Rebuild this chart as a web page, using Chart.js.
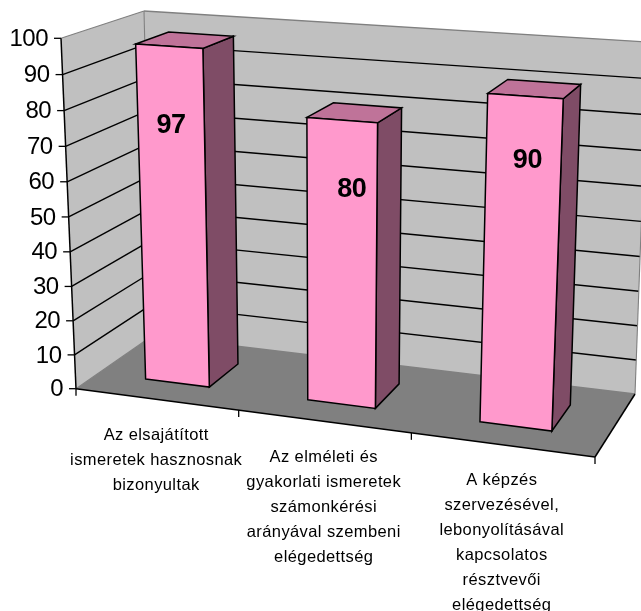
<!DOCTYPE html>
<html><head><meta charset="utf-8">
<style>html,body{margin:0;padding:0;background:#fff;overflow:hidden}canvas{display:block}</style>
<script src="https://cdn.jsdelivr.net/npm/chart.js@4"></script>
</head><body><canvas id="c" width="641" height="611"></canvas>
<script>
const categories = [
  ["Az elsajátított","ismeretek hasznosnak","bizonyultak"],
  ["Az elméleti és","gyakorlati ismeretek","számonkérési","arányával szembeni","elégedettség"],
  ["A képzés","szervezésével,","lebonyolításával","kapcsolatos","résztvevői","elégedettség"]
];
const values = [97, 80, 90];
const yMin = 0, yMax = 100, yStep = 10;

// view of the 3D box: screen corners of the vertical edges
const view = {
  A:[76,388.7], B:[595,457], C:[152,336], D:[635,394],
  E:[61,38.3],  H:[612,73.5],  F:[144,11],  G:[648,42],
  su:1.095, sv:1.04, sd:1
};
const depthFront = 0.30, depthBack = 0.72;
const labelHeight = [0.77,0.76,0.81], labelNudge = [0,10,4];
const COL = {wall:'#C0C0C0', floor:'#808080', edge:'#808080', front:'#FF99CC', top:'#BF7399', side:'#7F4C66', ink:'#000'};

const warp=(t,s)=>t/(t+(1-t)*s);
function P(u,v,d){
  const a=warp(u,view.su), b=warp(v,view.sv), c=warp(d,view.sd);
  const mix=(p,q,t)=>[p[0]+(q[0]-p[0])*t,p[1]+(q[1]-p[1])*t];
  const bot=mix(mix(view.A,view.B,a),mix(view.C,view.D,a),c);
  const top=mix(mix(view.E,view.H,a),mix(view.F,view.G,a),c);
  return mix(bot,top,b);
}
function poly(ctx,pts,fill,stroke,w){
  ctx.beginPath();pts.forEach((p,i)=>i?ctx.lineTo(p[0],p[1]):ctx.moveTo(p[0],p[1]));ctx.closePath();
  if(fill){ctx.fillStyle=fill;ctx.fill();}
  if(stroke){ctx.strokeStyle=stroke;ctx.lineWidth=w||1.5;ctx.lineJoin='miter';ctx.stroke();}
}
function line(ctx,p,q,c,w){ctx.beginPath();ctx.moveTo(p[0],p[1]);ctx.lineTo(q[0],q[1]);ctx.strokeStyle=c;ctx.lineWidth=w;ctx.stroke();}

const box3d = {
  id:'box3d',
  beforeDatasetsDraw(chart){
    const ctx=chart.ctx, ys=chart.scales.y;
    const vOf=val=>(val-ys.min)/(ys.max-ys.min);
    ctx.save();
    poly(ctx,[P(0,0,1),P(1,0,1),P(1,1,1),P(0,1,1)],COL.wall);
    poly(ctx,[P(0,0,0),P(0,0,1),P(0,1,1),P(0,1,0)],COL.wall);
    poly(ctx,[P(0,0,0),P(1,0,0),P(1,0,1),P(0,0,1)],COL.floor);
    ys.getTicks().forEach(t=>{
      const v=vOf(t.value);
      if(v>0&&v<1){
        line(ctx,P(0,v,0),P(0,v,1),COL.ink,1.4);
        line(ctx,P(0,v,1),P(1,v,1),COL.ink,1.4);
      }
    });
    line(ctx,P(0,1,0),P(0,1,1),COL.edge,1.2);
    line(ctx,P(0,1,1),P(1,1,1),COL.edge,1.3);
    line(ctx,P(0,0,1),P(0,1,1),COL.edge,1.1);
    line(ctx,P(0,0,0),P(0,0,1),COL.edge,1.1);
    line(ctx,P(0,0,1),P(1,0,1),COL.edge,1.3);
    line(ctx,P(1,0,1),P(1,1,1),COL.edge,1.1);
    ctx.restore();
  },
  beforeDatasetDraw(chart,args){
    const ctx=chart.ctx, area=chart.chartArea, ys=chart.scales.y;
    const W=area.right-area.left;
    const zero=ys.getPixelForValue(0), H=area.bottom-area.top;
    ctx.save();
    args.meta.data.forEach(el=>{
      const u0=(el.x-el.width/2-area.left)/W, u1=(el.x+el.width/2-area.left)/W;
      const v=(zero-el.y)/H, d0=depthFront, d1=depthBack;
      poly(ctx,[P(u1,0,d0),P(u1,0,d1),P(u1,v,d1),P(u1,v,d0)],COL.side,COL.ink);
      poly(ctx,[P(u0,v,d0),P(u1,v,d0),P(u1,v,d1),P(u0,v,d1)],COL.top,COL.ink);
      poly(ctx,[P(u0,0,d0),P(u1,0,d0),P(u1,v,d0),P(u0,v,d0)],COL.front,COL.ink);
    });
    ctx.restore();
    return false;
  },
  afterDatasetsDraw(chart){
    const ctx=chart.ctx, area=chart.chartArea, ys=chart.scales.y, xs=chart.scales.x;
    const W=area.right-area.left, H=area.bottom-area.top, zero=ys.getPixelForValue(0);
    ctx.save();
    line(ctx,P(0,0,0),P(0,1,0),COL.ink,1.5);
    line(ctx,P(0,0,0),P(1,0,0),COL.ink,1.5);
    line(ctx,P(1,0,0),P(1,0,1),COL.ink,1.5);
    ctx.fillStyle='#000';ctx.font='24px "Liberation Sans"';ctx.letterSpacing='-0.5px';ctx.textAlign='right';ctx.textBaseline='middle';
    ys.getTicks().forEach(t=>{
      const p=P(0,(t.value-ys.min)/(ys.max-ys.min),0);
      line(ctx,[p[0]-7,p[1]],p,COL.ink,1.3);
      ctx.fillText(String(t.value),p[0]-13,p[1]+1);
    });
    const n=categories.length;
    for(let i=0;i<=n;i++){const p=P(i/n,0,0);line(ctx,p,[p[0],p[1]+7],COL.ink,1.3);}
    ctx.font='16.5px "Liberation Sans"';ctx.letterSpacing='0.4px';ctx.textAlign='center';
    categories.forEach((lines,i)=>{
      const u=(xs.getPixelForValue(i)-area.left)/W, p=P(u,0,0);
      lines.forEach((s,k)=>ctx.fillText(s,p[0],p[1]+36+k*25));
    });
    ctx.font='bold 27px "Liberation Sans"';ctx.letterSpacing='-0.5px';
    chart.getDatasetMeta(0).data.forEach((el,i)=>{
      const u=(el.x-area.left)/W, v=(zero-el.y)/H;
      const p=P(u,v*labelHeight[i],depthFront);
      ctx.fillText(String(values[i]),p[0]+labelNudge[i],p[1]);
    });
    ctx.restore();
  }
};

new Chart(document.getElementById('c'),{
  type:'bar',
  data:{labels:categories,datasets:[{data:values,backgroundColor:COL.front,barPercentage:0.4,categoryPercentage:1}]},
  options:{
    responsive:false,animation:false,
    layout:{padding:{left:76,right:46,top:38,bottom:222}},
    plugins:{legend:{display:false},tooltip:{enabled:false}},
    scales:{
      x:{display:false,offset:true},
      y:{display:false,min:yMin,max:yMax,ticks:{stepSize:yStep}}
    }
  },
  plugins:[box3d]
});
</script></body></html>
